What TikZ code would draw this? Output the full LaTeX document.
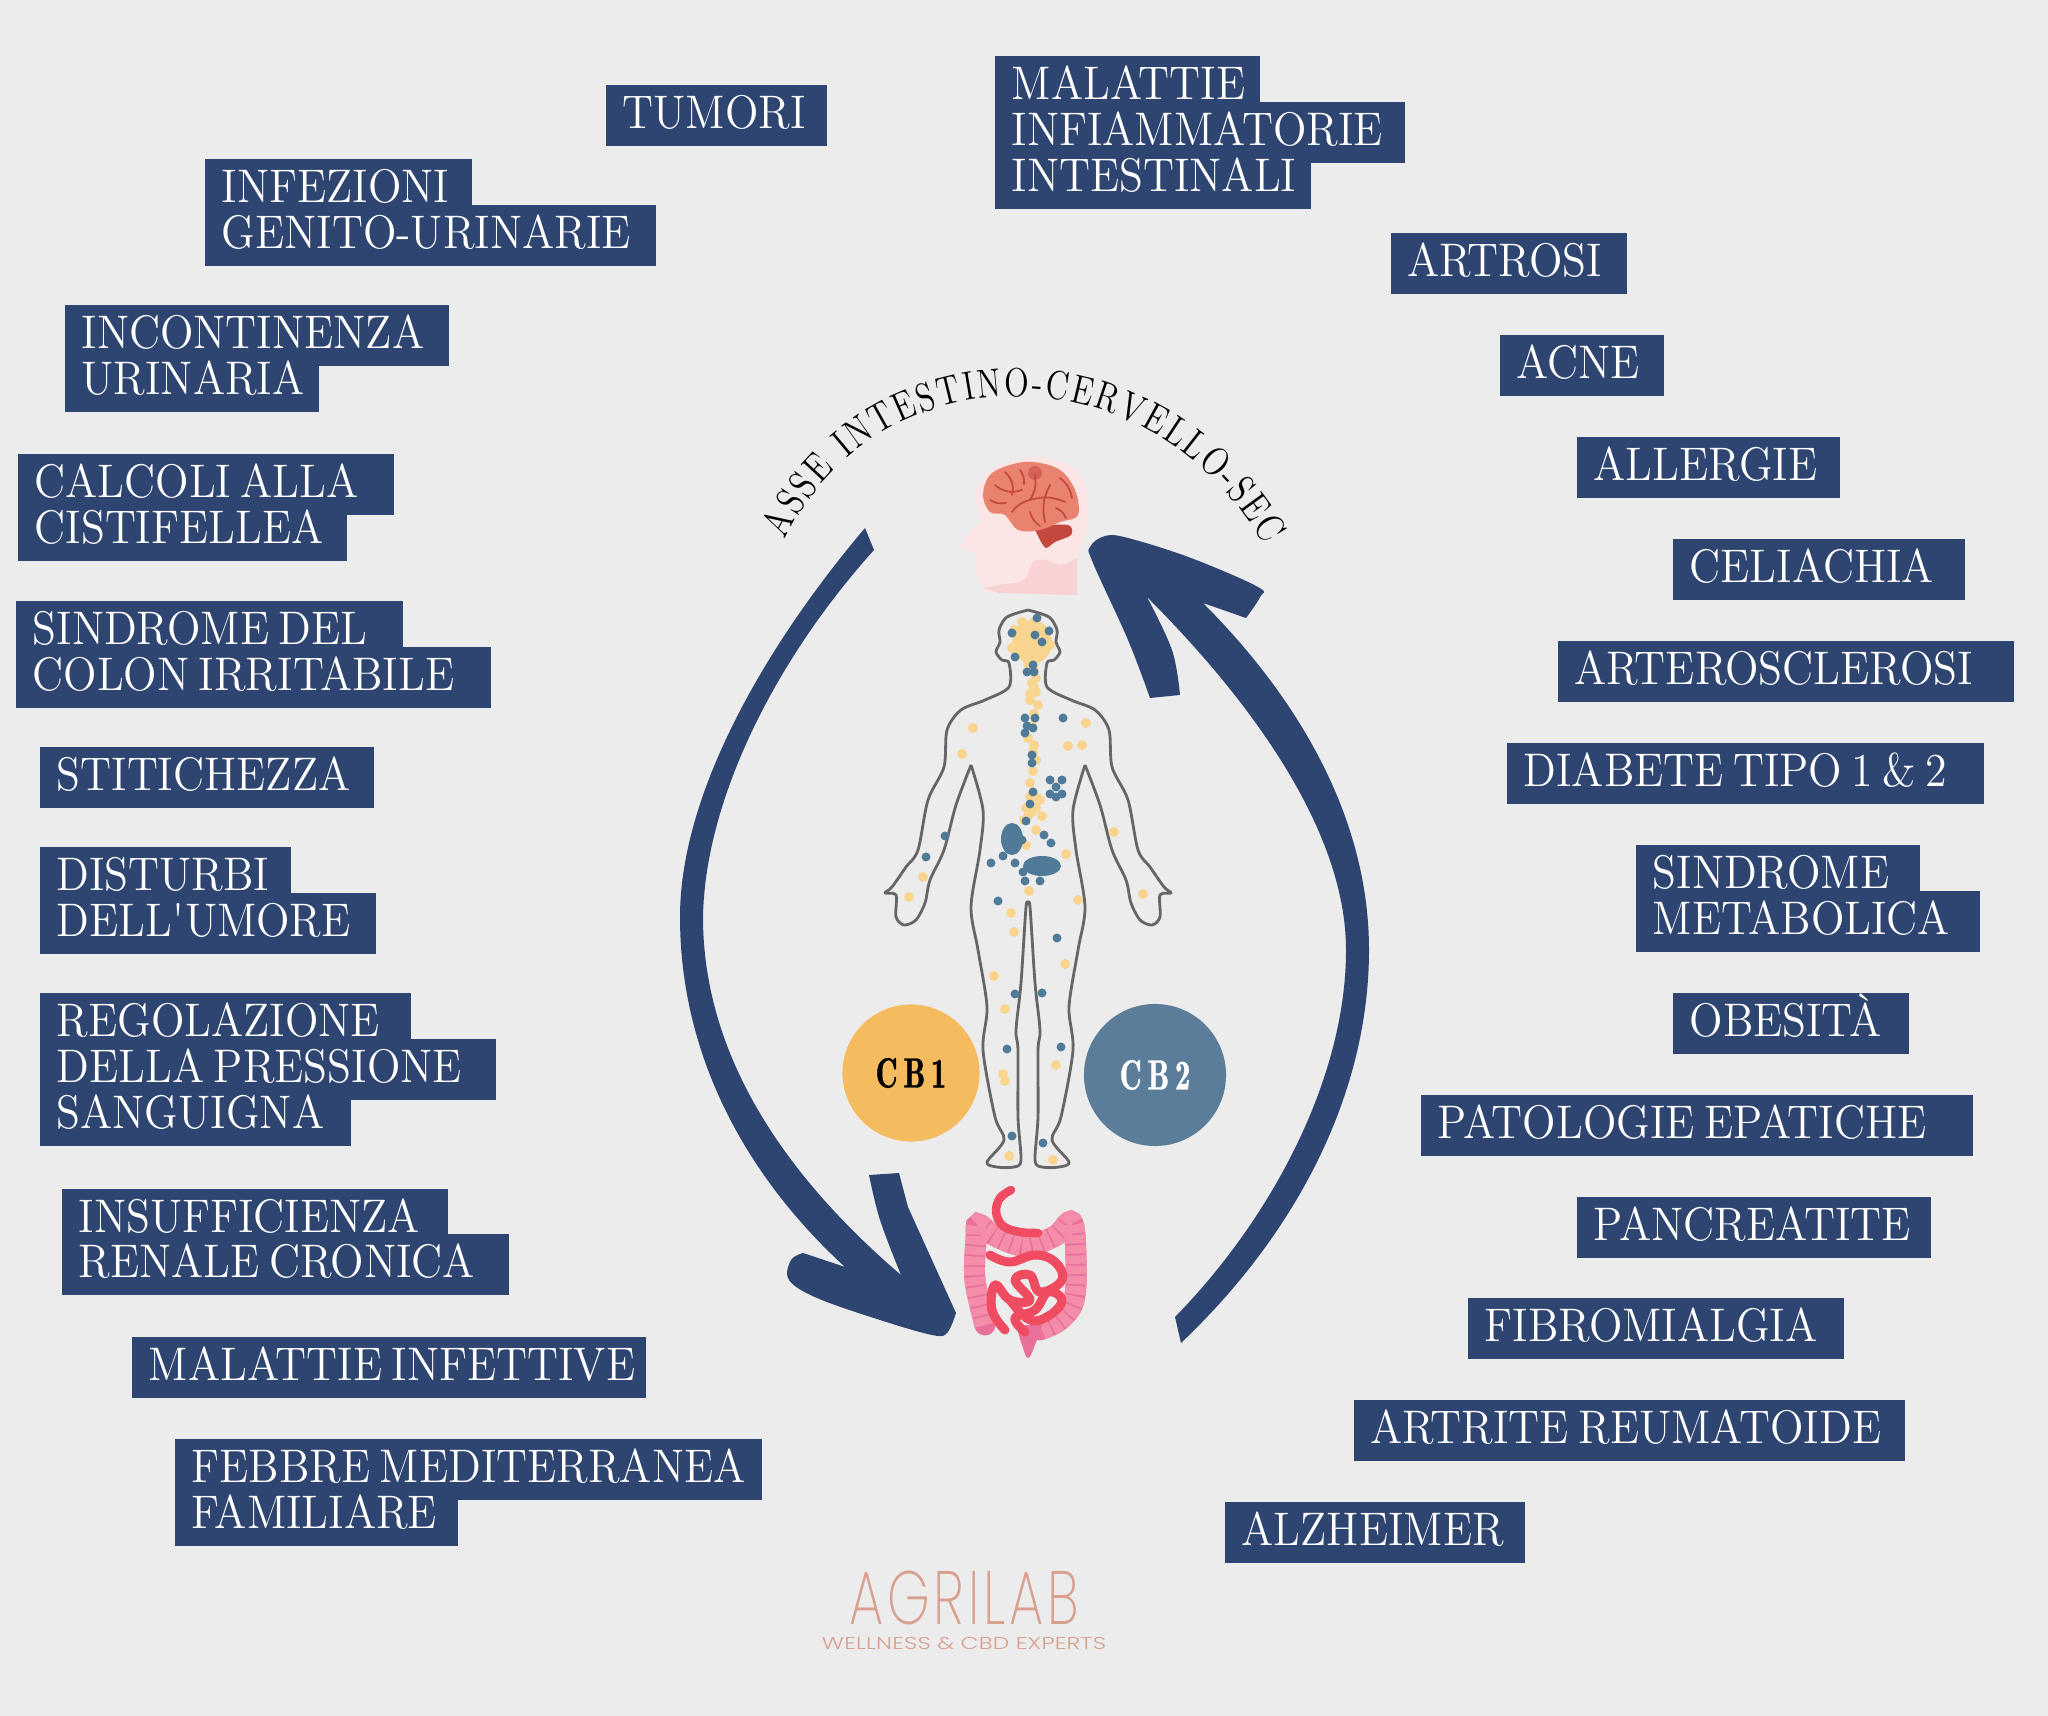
\documentclass[tikz,border=0pt]{standalone}
\usepackage{fontspec}
\setmainfont{Latin Modern Roman}[FakeStretch=0.93]
\newfontfamily\assefont{Latin Modern Roman}[FakeStretch=0.8]
\newfontfamily\cbfont{Latin Modern Roman Demi}[FakeStretch=0.72,FakeBold=1,LetterSpace=14]
\newfontfamily\logofont{Poppins ExtraLight}[FakeStretch=0.72,LetterSpace=5]
\newfontfamily\expertsfont{Poppins Light}[FakeStretch=1.35,LetterSpace=1]
\usetikzlibrary{decorations.text}
\definecolor{paper}{HTML}{ECECEC}
\definecolor{navy}{HTML}{2F4571}
\definecolor{cbone}{HTML}{F5BC5F}
\definecolor{cbtwo}{HTML}{5B7D99}
\definecolor{dotyellow}{HTML}{F9D58F}
\definecolor{dotblue}{HTML}{4F7A98}
\definecolor{bodygrey}{HTML}{666666}
\definecolor{headpink}{HTML}{FBE5E5}
\definecolor{neckpink}{HTML}{F9D3D3}
\definecolor{brainred}{HTML}{EA8270}
\definecolor{braindark}{HTML}{C5483E}
\definecolor{colon}{HTML}{F48DAA}
\definecolor{colondark}{HTML}{E8709A}
\definecolor{gutred}{HTML}{EF4C62}
\definecolor{logopink}{HTML}{D9A08F}
\tikzset{%
    tag/.style={%
        fill=navy, text=white, anchor=north west, inner xsep=0pt, inner ysep=0pt,
        text width=#1, align=left, execute at begin node={\hspace*{.17cm}\spaceskip=.2em\relax},
        text height=.44cm, text depth=.17cm, font=\fontsize{13.4pt}{13.4pt}\selectfont
    },
    arc/.style={fill=navy},
    bodyline/.style={draw=bodygrey, line width=.8pt, line join=round},
    receptor/.style={circle, inner sep=0pt, font=\cbfont\fontsize{12pt}{12pt}\selectfont}
}

\begin{document}
\begin{tikzpicture}[x=.01cm,y=-.01cm]
    \fill[paper] (0,0) rectangle (2048,1716);

    \node[tag=2.21cm] (tumori) at (605,84) {TUMORI};
    \node[tag=2.67cm] (infezioni) at (204,158) {INFEZIONI};
    \node[tag=4.51cm] (genito) at (204,204) {GENITO-URINARIE};
    \node[tag=3.84cm] (incontinenza) at (64,304) {INCONTINENZA};
    \node[tag=2.54cm] (urinaria) at (64,350) {URINARIA};
    \node[tag=3.76cm] (calcoli) at (17,453) {CALCOLI ALLA};
    \node[tag=3.29cm] (cistifellea) at (17,499) {CISTIFELLEA};
    \node[tag=3.87cm] (sindromedel) at (15,600) {SINDROME DEL};
    \node[tag=4.75cm] (colon) at (15,646) {COLON IRRITABILE};
    \node[tag=3.34cm] (stitichezza) at (39,746) {STITICHEZZA};
    \node[tag=2.51cm] (disturbi) at (39,846) {DISTURBI};
    \node[tag=3.36cm] (umore) at (39,892) {DELL\textquotesingle UMORE};
    \node[tag=3.71cm] (regolazione) at (39,992) {REGOLAZIONE};
    \node[tag=4.56cm] (pressione) at (39,1038) {DELLA PRESSIONE};
    \node[tag=3.11cm] (sanguigna) at (39,1084) {SANGUIGNA};
    \node[tag=3.86cm] (insufficienza) at (61,1188) {INSUFFICIENZA};
    \node[tag=4.47cm] (renale) at (61,1233) {RENALE CRONICA};
    \node[tag=5.14cm] (infettive) at (131,1336) {MALATTIE INFETTIVE};
    \node[tag=5.87cm] (febbre) at (174,1438) {FEBBRE MEDITERRANEA};
    \node[tag=2.83cm] (familiare) at (174,1484) {FAMILIARE};

    \node[tag=2.65cm] (malattie) at (994,55) {MALATTIE};
    \node[tag=4.10cm] (infiammatorie) at (994,101) {INFIAMMATORIE};
    \node[tag=3.16cm] (intestinali) at (994,147) {INTESTINALI};
    \node[tag=2.36cm] (artrosi) at (1390,232) {ARTROSI};
    \node[tag=1.64cm] (acne) at (1499,334) {ACNE};
    \node[tag=2.63cm] (allergie) at (1576,436) {ALLERGIE};
    \node[tag=2.92cm] (celiachia) at (1672,538) {CELIACHIA};
    \node[tag=4.56cm] (arteriosclerosi) at (1557,640) {ARTEROSCLEROSI};
    \node[tag=4.77cm] (diabete) at (1506,742) {DIABETE TIPO 1 \& 2};
    \node[tag=2.84cm] (sindrome) at (1635,844) {SINDROME};
    \node[tag=3.44cm] (metabolica) at (1635,890) {METABOLICA};
    \node[tag=2.36cm] (obesita) at (1672,992) {OBESITÀ};
    \node[tag=5.52cm] (patologie) at (1420,1094) {PATOLOGIE EPATICHE};
    \node[tag=3.54cm] (pancreatite) at (1576,1196) {PANCREATITE};
    \node[tag=3.76cm] (fibromialgia) at (1467,1297) {FIBROMIALGIA};
    \node[tag=5.51cm] (artrite) at (1353,1399) {ARTRITE REUMATOIDE};
    \node[tag=3.00cm] (alzheimer) at (1224,1501) {ALZHEIMER};

    \fill[arc] (865,528) .. controls (770,640) and (680,790) .. (680,917)
        .. controls (680,1060) and (750,1180) .. (845,1267)
        -- plot[smooth, tension=.6] coordinates {(803,1253) (791,1260) (789,1280) (817,1298) (880,1320) (932,1335) (947,1333) (956,1313)}
        -- (908,1207) -- (899,1173) -- (869,1175)
        -- plot[smooth, tension=.6] coordinates {(869,1175) (880,1220) (901,1275)}
        .. controls (790,1180) and (703,1060) .. (703,917)
        .. controls (705,800) and (775,660) .. (874,550)
        -- cycle;
    \fill[arc] (1181,1343) .. controls (1300,1230) and (1369,1090) .. (1369,950)
        .. controls (1369,810) and (1290,690) .. (1203,603)
        -- plot[smooth, tension=.6] coordinates {(1246,618) (1260,597) (1258,587) (1191,558) (1128,538) (1105,536) (1090,547) (1093,563) (1128,640) (1150,698)}
        -- plot[smooth, tension=.6] coordinates {(1180,695) (1172,650) (1147,597)}
        .. controls (1250,700) and (1346,830) .. (1346,950)
        .. controls (1346,1080) and (1270,1220) .. (1175,1317)
        -- cycle;

    \path[decorate, decoration={text along path, text align={fit to path},
        text={|\assefont\fontsize{11.5pt}{11.5pt}\selectfont|ASSE INTESTINO-CERVELLO-SEC}}]
        (785,540) .. controls (875,350) and (1150,345) .. (1264,545);

    \fill[headpink] (1077,595) -- (1077,560) -- plot[smooth, tension=.5] coordinates {(1077,560) (1086,530) (1088,493) (1070,465) (1033,457) (990,470) (975,493) (980,520) (972,530) (961,547) (977,555) (975,570) (985,590) (1000,593)} -- cycle;
    \fill[neckpink] (1077,595) -- plot[smooth, tension=.5] coordinates {(1077,558) (1062,565) (1045,560) (1033,562) (1024,580) (1000,585) (983,588)} -- (1000,593) -- cycle;
    \fill[braindark] plot[smooth, tension=.5] coordinates {(1033,526) (1068,525) (1071,535) (1055,542) (1046,548) (1040,540)} -- cycle;
    \fill[brainred] plot[smooth cycle, tension=.6] coordinates {(983,495) (990,475) (1010,465) (1033,462) (1060,470) (1075,490) (1078,515) (1060,522) (1040,530) (1018,530) (1005,515) (990,512)};
    \fill[braindark, opacity=.55] (1035,473) circle (.07cm);
    \draw[braindark, line width=.5pt, line cap=round]
        (1035,475) to[bend left=20] (1030,500) to[bend right=20] (1012,512)
        (995,485) to[bend right=30] (1022,490)
        (1030,500) to[bend left=20] (1065,502)
        (1050,485) to[bend right=20] (1045,522)
        (1005,472) to[bend left=30] (1012,495)
        (1060,478) to[bend left=20] (1072,498)
        (1020,470) to[bend left=20] (1024,484)
        (990,500) to[bend right=20] (1006,503)
        (1030,512) to[bend right=20] (1040,526)
        (1056,508) to[bend left=20] (1066,518);

    \foreach \side in {1,-1} {
        \begin{scope}[shift={(1028,0)},xscale=\side]
            \draw[bodyline] plot[smooth, tension=.5] coordinates {(0,610) (21,617) (29,630) (28,642) (32,652) (26,660) (19,663) (19,687) (43,700) (67,710) (81,730) (84,767) (100,800) (110,850) (122,867) (136,887) (143,893) (132,895) (132,917) (124,925) (112,920) (103,903) (98,880) (84,850) (72,805) (57,765)};
            \draw[bodyline] plot[smooth, tension=.5] coordinates {(57,765) (45,810) (48,850) (57,907) (50,950) (41,1007) (45,1050) (33,1117) (24,1140) (41,1162) (31,1167) (14,1167) (7,1160) (10,1117) (10,1050) (12,1030) (7,983) (2,907) (0,905)};
        \end{scope}
    }

    \fill[dotyellow] (1032,642) ellipse (.2cm and .22cm);
    \foreach \x/\y in {1022/622,1034/622,1014/630,1030/628,1046/632,1050/645,1012/648,1028/664,1034/670,1032/683,1036/692,1030/700,1038/705,1034/714,1032/726,1028/738,1034/745,1036/760,1033/771,1030/783,1030/797,1040/800,1026/808,1036/808,1042/816,1028/816,1024/820,1032/812,1037/798,1034/688,1030/694,1036/678,1033/752,973/728,1086/723,1068/746,1082/745,962/754,1114/832,1066/854,923/877,909/897,1143/894,1029/891,1078/900,1011/913,1014/932,1065/964,994/976,1005/1009,1056/1065,1003/1074,1005/1081,1009/1156,1053/1160,1036/830,1026/845}
        \fill[dotyellow] (\x,\y) circle (.05cm);
    \fill[dotblue] (1012,839) ellipse (.11cm and .16cm);
    \fill[dotblue] (1042,866) ellipse (.19cm and .1cm);
    \foreach \x/\y in {1037/618,1012/633,1035/635,1049/631,1042/642,1015/657,1033/665,1027/672,1034/672,1025/718,1035/718,1027/726,1033/728,1025/733,1063/718,1032/755,1032/763,1050/780,1062/780,1056/787,1050/794,1062/794,1056/797,1033/792,1030/804,1026/821,945/836,1044/835,1051/843,1022/840,926/857,991/863,1003/856,1015/863,1023/872,1025/881,1040/881,998/901,1057/938,1015/994,1042/993,1007/1049,1061/1047,1012/1136,1043/1143}
        \fill[dotblue] (\x,\y) circle (.045cm);

    \node[receptor, fill=cbone, minimum size=1.37cm, text=black] (cbuno) at (911,1073) {CB1};
    \node[receptor, fill=cbtwo, minimum size=1.42cm, text=white] (cbdue) at (1155,1075) {CB2};

    \draw[colondark, line width=.21cm, line cap=round] plot[smooth, tension=.6] coordinates {(985,1325) (975,1280) (976,1240) (978,1224) (995,1236) (1025,1246) (1055,1236) (1072,1222) (1076,1260) (1074,1300) (1060,1320) (1040,1330)};
    \draw[colon, line width=.21cm, dash pattern=on 2.4pt off .5pt] plot[smooth, tension=.6] coordinates {(985,1325) (975,1280) (976,1240) (978,1224) (995,1236) (1025,1246) (1055,1236) (1072,1222) (1076,1260) (1074,1300) (1060,1320) (1040,1330)};
    \fill[colondark] plot[smooth, tension=.7] coordinates {(1016,1325) (1022,1345) (1028,1358) (1035,1345) (1042,1325)} -- cycle;
    \draw[gutred, line width=.085cm, line cap=round] plot[smooth, tension=.6] coordinates {(1011,1190) (1000,1198) (996,1212) (1003,1226) (1020,1232) (1038,1233)};
    \draw[gutred, line width=.09cm, line cap=round, line join=round] plot[smooth, tension=.7] coordinates {(990,1255) (1010,1262) (1035,1255) (1055,1262) (1062,1280) (1040,1292) (1030,1275) (1015,1280) (1030,1300) (1010,1300) (995,1285) (992,1310) (1005,1330)};
    \draw[gutred, line width=.09cm, line cap=round, line join=round] plot[smooth, tension=.7] coordinates {(1010,1300) (1030,1320) (1050,1315) (1062,1300) (1048,1292) (1035,1310) (1015,1318) (1025,1332)};

    \node[text=logopink, inner sep=0pt, font=\logofont\fontsize{21.5pt}{21.5pt}\selectfont] (agrilab) at (964,1598) {AGRILAB};
    \node[text=logopink, inner sep=0pt, font=\expertsfont\fontsize{4.9pt}{4.9pt}\selectfont] (experts) at (964,1643) {WELLNESS \& CBD EXPERTS};
\end{tikzpicture}
\end{document}
